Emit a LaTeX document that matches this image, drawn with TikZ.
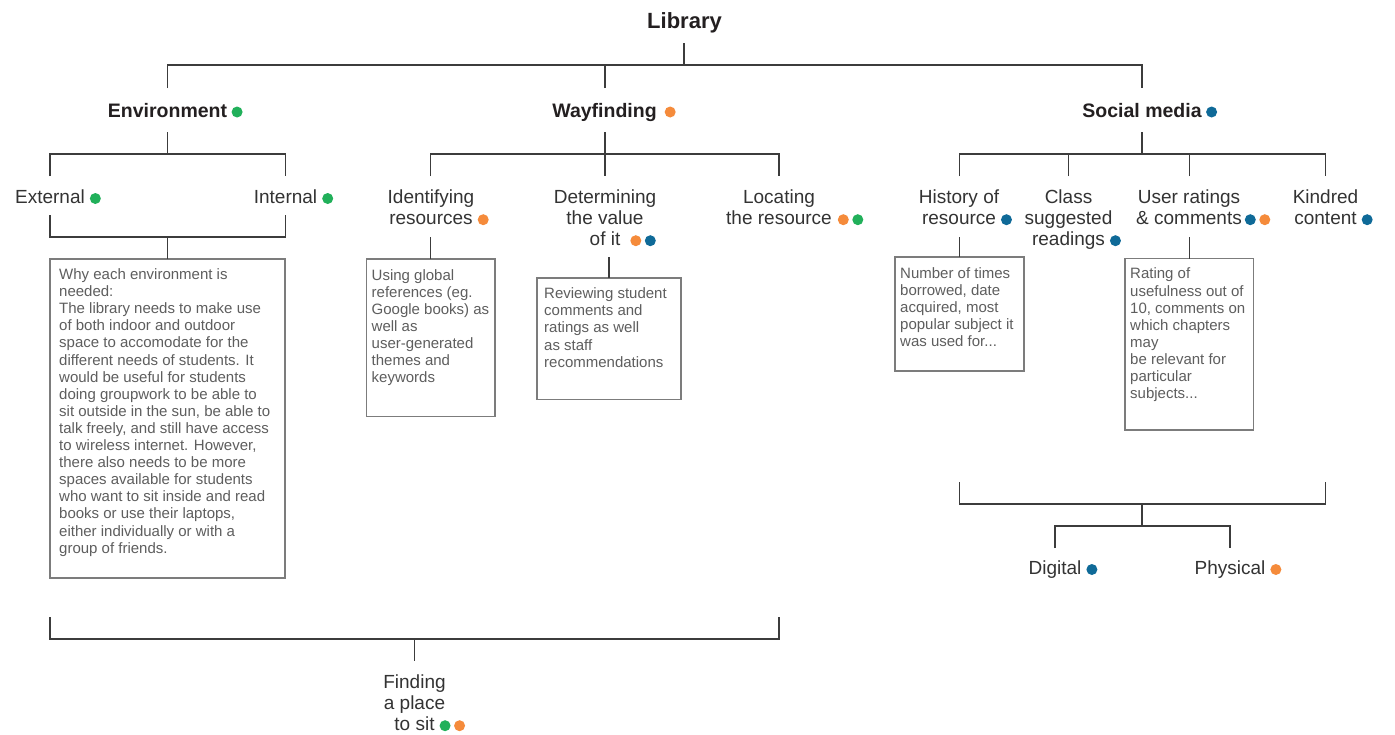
\documentclass[tikz,border=0pt]{standalone}
\usepackage{fontspec}
\setmainfont{Liberation Sans}
\definecolor{cgreen}{HTML}{21B05A}
\definecolor{corange}{HTML}{F58B3B}
\definecolor{cblue}{HTML}{0F6A98}
\definecolor{lncol}{HTML}{3C3C3C}
\definecolor{boxcol}{HTML}{7C7C7C}
\definecolor{txtcol}{HTML}{333333}
\definecolor{ttlcol}{HTML}{231F20}
\definecolor{boxtxt}{HTML}{5E5E5E}
\newcommand\mydt[1]{\tikz[baseline={(0pt,-5pt)}]\fill[#1] (0pt,0pt) circle[radius=5.5pt];}
\newcommand\Gd{\mydt{cgreen}}
\newcommand\Od{\mydt{corange}}
\newcommand\Bd{\mydt{cblue}}
\newcommand\fs{\rule{0pt}{15pt}}
\newcommand\bs{\rule{0pt}{11pt}}
\newcommand\tagdots[2][5pt]{\rlap{\hspace{#1}#2}}
\tikzset{
  ln/.style={draw=lncol, line width=1.1pt},
  title/.style={font=\bfseries\fontsize{19.5}{21}\selectfont, text=ttlcol, inner sep=0pt, anchor=base},
  lab/.style={font=\fontsize{19}{21}\selectfont, text=txtcol, inner sep=0pt, align=center},
  notebox/.style={draw=boxcol, line width=1.2pt, anchor=north west, inner sep=0pt, outer sep=0pt},
  notetext/.style={font=\fontsize{15}{17.1}\selectfont, text=boxtxt, inner sep=0pt, align=left, anchor=north west},
}
\begin{document}
\begin{tikzpicture}[x=1pt,y=-1pt]
\useasboundingbox (0,0) rectangle (1395,734);
\fill[white] (0,0) rectangle (1395,734);

% titles
\node[title, font=\bfseries\fontsize{22}{24}\selectfont] (lib) at (684.5,28.3) {Library};
\node[title] (env) at (167.5,117) {Environment\tagdots[4.5pt]{\Gd}};
\node[title] (way) at (604.5,117) {Wayfinding\tagdots[8pt]{\Od}};
\node[title] (soc) at (1142,117) {Social media\tagdots[4.5pt]{\Bd}};

% labels
\node[lab, anchor=base] (ext) at (50,203.5) {External\tagdots{\Gd}};
\node[lab, anchor=base] (int) at (285.5,203.5) {Internal\tagdots{\Gd}};
\node[lab, anchor=north] (ident) at (431,188.5) {\fs Identifying\\resources\tagdots{\Od}};
\node[lab, anchor=north] (det) at (605,188.5) {\fs Determining\\the value\\of it\tagdots[10pt]{\Od\hspace{3.5pt}\Bd}};
\node[lab, anchor=north] (loc) at (779,188.5) {\fs Locating\\the resource\tagdots[6pt]{\Od\hspace{3.5pt}\Gd}};
\node[lab, anchor=north] (hist) at (959,188.5) {\fs History of\\resource\tagdots{\Bd}};
\node[lab, anchor=north] (cls) at (1068.5,188.5) {\fs Class\\suggested\\readings\tagdots{\Bd}};
\node[lab, anchor=north] (usr) at (1189,188.5) {\fs User ratings\\\& comments\tagdots[3pt]{\Bd\hspace{3.5pt}\Od}};
\node[lab, anchor=north] (kin) at (1325.5,188.5) {\fs Kindred\\content\tagdots{\Bd}};
\node[lab, anchor=base] (dig) at (1055,574.5) {Digital\tagdots{\Bd}};
\node[lab, anchor=base] (phy) at (1230,574.5) {Physical\tagdots{\Od}};
\node[lab, anchor=north] (find) at (414.5,673.5) {\fs Finding\\a place\\to sit\tagdots{\Gd\hspace{3.5pt}\Od}};

% note boxes
\node[notebox, minimum width=235pt, minimum height=319pt] (envbox) at (50,259) {};
\node[notetext] (envtxt) at (59,268.3) {\bs Why each environment is\\
needed:\\
The library needs to make use\\
of both indoor and outdoor\\
space to accomodate for the\\
different needs of students. It\\
would be useful for students\\
doing groupwork to be able to\\
sit outside in the sun, be able to\\
talk freely, and still have access\\
to wireless internet. However,\\
there also needs to be more\\
spaces available for students\\
who want to sit inside and read\\
books or use their laptops,\\
either individually or with a\\
group of friends.};

\node[notebox, minimum width=128.5pt, minimum height=157.5pt] (idbox) at (366.5,259) {};
\node[notetext] (idtxt) at (371.5,269) {\bs Using global\\references (eg.\\Google books) as\\well as\\user-generated\\themes and\\keywords};

\node[notebox, minimum width=144pt, minimum height=121.5pt] (detbox) at (537,278) {};
\node[notetext] (dettxt) at (544,287.5) {\bs Reviewing student\\comments and\\ratings as well\\as staff\\recommendations};

\node[notebox, minimum width=129pt, minimum height=114pt] (histbox) at (895,257) {};
\node[notetext] (histtxt) at (900,267.3) {\bs Number of times\\borrowed, date\\acquired, most\\popular subject it\\was used for...};

\node[notebox, minimum width=128.5pt, minimum height=171.5pt] (usrbox) at (1125,258.5) {};
\node[notetext] (usrtxt) at (1130,267.7) {\bs Rating of\\usefulness out of\\10, comments on\\which chapters\\may\\be relevant for\\particular\\subjects...};

% junction coordinates
\coordinate (libBot) at (684,43);
\coordinate (libBar) at (684,65);
\coordinate (envTop) at (167.5,88);
\coordinate (wayTop) at (605,88);
\coordinate (socTop) at (1142,88);

\coordinate (envBot) at (167.5,132);
\coordinate (envBar) at (167.5,154);
\coordinate (extTop) at (50,176);
\coordinate (intTop) at (285.5,176);
\coordinate (extBot) at (50,215);
\coordinate (intBot) at (285.5,215);
\coordinate (envNote) at (167.5,237);

\coordinate (wayBot) at (605,132);
\coordinate (wayBar) at (605,154);
\coordinate (idTop) at (430.75,176);
\coordinate (detTop) at (605,176);
\coordinate (locTop) at (779,176);
\coordinate (idBot) at (430.75,237);
\coordinate (detBot) at (609,257);

\coordinate (socBot) at (1142,132);
\coordinate (socBar) at (1142,154);
\coordinate (hisTop) at (959.5,176);
\coordinate (clsTop) at (1068.5,176);
\coordinate (usrTop) at (1189.25,176);
\coordinate (kinTop) at (1325.5,176);
\coordinate (hisBot) at (959.5,237);
\coordinate (usrBot) at (1189.25,237);

\coordinate (hisEnd) at (959.5,482);
\coordinate (kinEnd) at (1325.5,482);
\coordinate (mBar) at (1142,504);
\coordinate (dBar) at (1142,526);
\coordinate (digTop) at (1055,548);
\coordinate (phyTop) at (1230,548);

\coordinate (extEnd) at (50,617);
\coordinate (locEnd) at (779,617);
\coordinate (fBar) at (414.5,639);
\coordinate (fTop) at (414.5,661);

% connectors
\draw[ln] (libBot) -- (libBar);
\draw[ln] (envTop) |- (libBar) -| (socTop);
\draw[ln] (wayTop) -- (wayTop |- libBar);

\draw[ln] (envBot) -- (envBar);
\draw[ln] (extTop) |- (intTop |- envBar) -- (intTop);
\draw[ln] (extBot) |- (intBot |- envNote) -- (intBot);
\draw[ln] (envbox.north |- envNote) -- (envbox.north);

\draw[ln] (wayBot) -- (detTop);
\draw[ln] (idTop) |- (locTop |- wayBar) -- (locTop);
\draw[ln] (idbox.north |- idBot) -- (idbox.north);
\draw[ln] (detbox.north |- detBot) -- (detbox.north);

\draw[ln] (socBot) -- (socBar);
\draw[ln] (hisTop) |- (kinTop |- socBar) -- (kinTop);
\draw[ln] (clsTop) -- (clsTop |- socBar);
\draw[ln] (usrTop) -- (usrTop |- socBar);
\draw[ln] (histbox.north |- hisBot) -- (histbox.north);
\draw[ln] (usrbox.north |- usrBot) -- (usrbox.north);

\draw[ln] (hisEnd) |- (kinEnd |- mBar) -- (kinEnd);
\draw[ln] (mBar) -- (dBar);
\draw[ln] (digTop) |- (phyTop |- dBar) -- (phyTop);

\draw[ln] (extEnd) |- (locEnd |- fBar) -- (locEnd);
\draw[ln] (fBar) -- (fTop);
\end{tikzpicture}
\end{document}
